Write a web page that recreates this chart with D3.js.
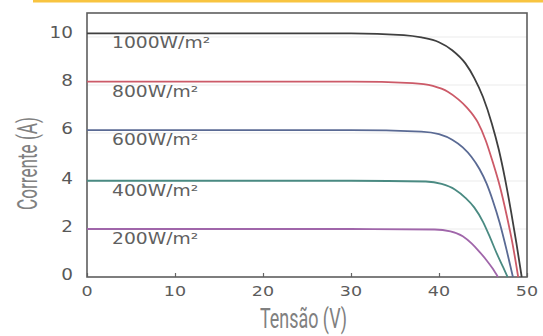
<!DOCTYPE html>
<html><head><meta charset="utf-8">
<script src="https://cdn.jsdelivr.net/npm/d3@7/dist/d3.min.js"></script>
<style>html,body{margin:0;padding:0;background:#fff;}svg{display:block;}</style>
</head><body><svg id="c" width="543" height="336"></svg>
<script>
// Data: [Tensão (V), Corrente (A)]
const seriesNames = ["1000W/m²", "800W/m²", "600W/m²", "400W/m²", "200W/m²"];
const curve1000 = [[0,10.15],[30,10.15],[36,10.08],[38,9.98],[40,9.78],[41.5,9.45],[43,8.9],[44,8.3],[45,7.5],[46,6.4],[46.8,5.3],[47.5,4.1],[48.2,2.7],[48.8,1.4],[49.4,0]];
const curve800 = [[0,8.14],[30,8.14],[37,8.08],[39.3,7.96],[41,7.72],[42.2,7.4],[43.2,7.05],[44.4,6.45],[45.3,5.7],[46.1,4.8],[46.9,3.8],[47.7,2.55],[48.4,1.3],[49,0]];
const curve600 = [[0,6.12],[30,6.12],[38,6.06],[40,5.95],[41.5,5.72],[42.7,5.4],[43.7,5.0],[44.6,4.5],[45.4,3.9],[46.1,3.2],[46.9,2.25],[47.7,1.1],[48.4,0]];
const curve400 = [[0,4.01],[30,4.01],[38.5,3.98],[40.3,3.88],[41.8,3.65],[43,3.3],[44,2.9],[45,2.3],[45.8,1.65],[46.6,0.95],[47.3,0.4],[47.8,0]];
const curve200 = [[0,2.0],[30,2.0],[39.5,1.98],[41.3,1.9],[42.7,1.7],[43.7,1.4],[44.6,1.05],[45.4,0.7],[46.1,0.35],[46.7,0]];
const xTicks = [0, 10, 20, 30, 40, 50];
const yTicks = [0, 2, 4, 6, 8, 10];
const xTitle = "Tensão (V)";
const yTitle = "Corrente (A)";

const curves = [curve1000, curve800, curve600, curve400, curve200];
const colors = ["#3f3f3f", "#cc5a68", "#5a6a94", "#4a8a82", "#a066aa"];

const svg = d3.select("#c");
const L = 87, R = 527, T = 13, B = 277;
const x = d3.scaleLinear().domain([0, 50]).range([L, R]);
const y = d3.scaleLinear().domain([0, 11]).range([B, T]);

// top yellow bar
svg.append("rect").attr("x", 33).attr("y", 0).attr("width", 510).attr("height", 2.5).attr("fill", "#f8c440");

// gridlines
svg.append("g").selectAll("line").data(yTicks.filter(d => d > 0)).join("line")
  .attr("x1", L).attr("x2", R).attr("y1", d => y(d)).attr("y2", d => y(d))
  .attr("stroke", "#ebebeb").attr("stroke-width", 1);

// x axis ticks (inside)
const xAxis = d3.axisBottom(x).tickValues(xTicks).tickSize(-4).tickFormat("");
svg.append("g").attr("transform", `translate(0,${B})`).call(xAxis)
  .call(g => g.select(".domain").remove())
  .call(g => g.selectAll("line").attr("stroke", "#666").attr("stroke-width", 1.2));

// frame
svg.append("rect").attr("x", L).attr("y", T).attr("width", R - L).attr("height", B - T)
  .attr("fill", "none").attr("stroke", "#5e5e5e").attr("stroke-width", 1.6);

// curves
const line = d3.line().x(d => x(d[0])).y(d => y(d[1])).curve(d3.curveMonotoneX);
svg.append("g").selectAll("path").data(curves).join("path")
  .attr("d", line).attr("fill", "none")
  .attr("stroke", (d, i) => colors[i]).attr("stroke-width", 1.8);

// series labels
svg.append("g").selectAll("g").data(seriesNames).join("g")
  .attr("transform", (d, i) => `translate(112,${y(curves[i][0][1]) + 15}) scale(1.17,1)`)
  .append("text").text(d => d)
  .attr("font-family", "DejaVu Sans").attr("font-size", 16).attr("fill", "#606060");

// y tick labels
svg.append("g").selectAll("g").data(yTicks).join("g")
  .attr("transform", d => `translate(73,${y(d) + 4 - (d >= 6 ? 3 : 1)}) scale(1.15,1)`)
  .append("text").text(d => d).attr("text-anchor", "end")
  .attr("font-family", "DejaVu Sans").attr("font-size", 16).attr("fill", "#585858");

// x tick labels
svg.append("g").selectAll("g").data(xTicks).join("g")
  .attr("transform", d => `translate(${x(d)},${296}) scale(1.25,1)`)
  .append("text").text(d => d).attr("text-anchor", "middle")
  .attr("font-family", "DejaVu Sans").attr("font-size", 14).attr("fill", "#5c5c5c");

// axis titles
svg.append("text").text(xTitle)
  .attr("x", 260).attr("y", 328)
  .attr("textLength", 87).attr("lengthAdjust", "spacingAndGlyphs")
  .attr("font-family", "Liberation Sans Narrow, Roboto, sans-serif").attr("font-size", 28).attr("fill", "#808080");
svg.append("text").text(yTitle)
  .attr("transform", "translate(37,210) rotate(-90)")
  .attr("textLength", 93).attr("lengthAdjust", "spacingAndGlyphs")
  .attr("font-family", "Liberation Sans Narrow, Roboto, sans-serif").attr("font-size", 27).attr("fill", "#808080");
</script></body></html>
